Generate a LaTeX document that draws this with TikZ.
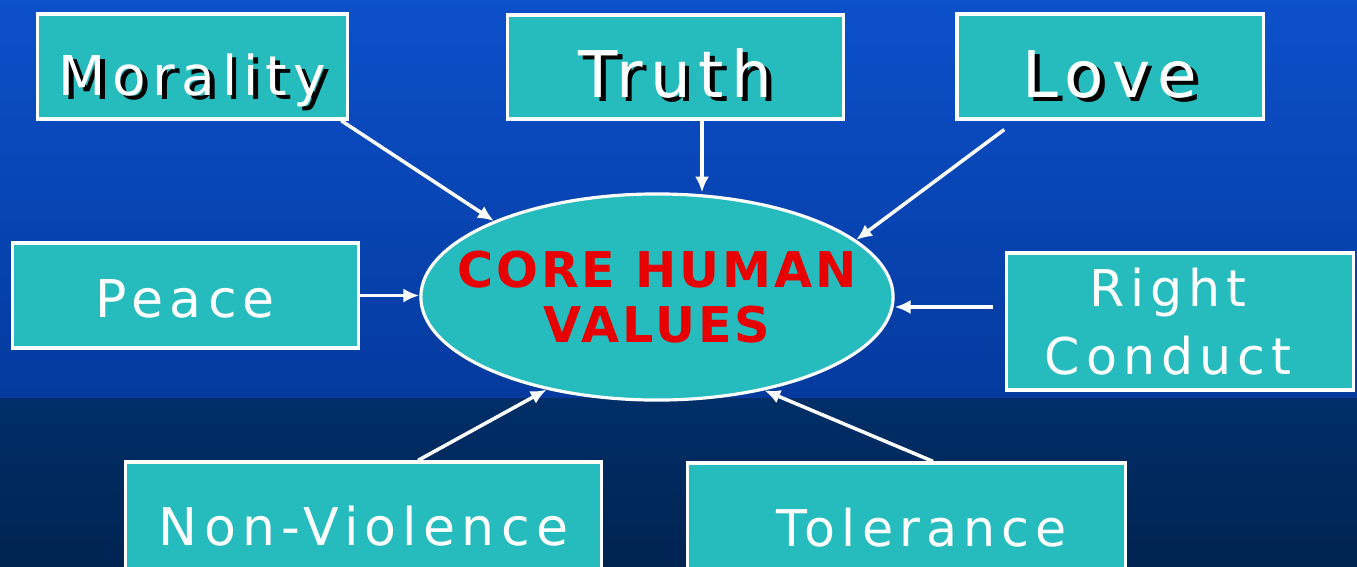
\documentclass[tikz,border=0pt]{standalone}
\usepackage{fontspec}
\setmainfont{DejaVu Sans}
\newfontfamily\boxfont{DejaVu Sans}[LetterSpace=12]
\newfontfamily\corefont{DejaVu Sans}[LetterSpace=6]
\usetikzlibrary{shapes.geometric,arrows.meta,calc}

\definecolor{bgtop}{RGB}{12,80,202}
\definecolor{bgmid}{RGB}{4,58,158}
\definecolor{bglow}{RGB}{0,46,104}
\definecolor{bgbot}{RGB}{0,36,82}
\definecolor{boxfill}{RGB}{38,188,190}
\definecolor{corered}{RGB}{232,0,0}

\newcommand{\shadowed}[1]{\makebox[0pt][l]{\kern1.3pt\raisebox{-1.3pt}{\color{black}#1}}#1}

\begin{document}
\begin{tikzpicture}[
    x=0.01cm, y=-0.01cm,
    valbox/.style={draw=white, line width=0.9pt, fill=boxfill, text=white,
        inner sep=0pt, text depth=0pt},
    core/.style={ellipse, draw=white, line width=0.9pt, fill=boxfill,
        minimum width=4.72cm, minimum height=2.06cm,
        inner xsep=-1cm, inner ysep=0pt, align=center, text=corered,
        font=\corefont\bfseries\fontsize{14pt}{15.6pt}\selectfont},
    arr/.style={draw=white, line width=1pt, -{Latex[length=4.5pt,width=4pt]}}
]

    % background
    \useasboundingbox (0,0) rectangle (1357,566);
    \clip (0,0) rectangle (1357,566);
    \shade[top color=bgtop, bottom color=bgmid] (0,0) rectangle (1357,398);
    \shade[top color=bglow, bottom color=bgbot] (0,398) rectangle (1357,566);

    % centre
    \node[core] (core) at (657,297) {CORE HUMAN\\VALUES};

    % top row
    \node[valbox, minimum width=3.09cm, minimum height=1.05cm, text height=0.57cm,
        font=\boxfont\fontsize{15.6pt}{18pt}\selectfont]
        (morality) at (192.5,66.5) {\shadowed{Morality}};
    \node[valbox, minimum width=3.35cm, minimum height=1.04cm, text height=0.6cm,
        font=\boxfont\fontsize{18.3pt}{21pt}\selectfont]
        (truth) at (675.5,67) {\shadowed{Truth}};
    \node[valbox, minimum width=3.06cm, minimum height=1.05cm, text height=0.61cm,
        font=\boxfont\fontsize{18.3pt}{21pt}\selectfont]
        (love) at (1110,66.5) {\shadowed{Love}};

    % middle row
    \node[valbox, minimum width=3.45cm, minimum height=1.05cm, text height=0.43cm,
        font=\boxfont\fontsize{14.8pt}{18pt}\selectfont]
        (peace) at (185.5,295.5) {Peace};
    \node[valbox, minimum width=3.46cm, minimum height=1.37cm, align=center,
        inner sep=0pt, text depth=, font=\boxfont\fontsize{14.4pt}{19.4pt}\selectfont]
        (conduct) at (1180,321.5) {Right\kern0.24cm\\Conduct\kern0.24cm};

    % bottom row
    \node[valbox, minimum width=4.75cm, minimum height=1.2cm, text height=0.46cm,
        font=\boxfont\fontsize{14.8pt}{18pt}\selectfont]
        (nonviol) at (363.5,522) {Non-Violence};
    \node[valbox, minimum width=4.37cm, minimum height=1.2cm, text height=0.46cm,
        font=\boxfont\fontsize{14.4pt}{18pt}\selectfont]
        (toler) at (906.5,523) {\kern0.3cm Tolerance};

    % arrows into the centre
    \draw[arr] (morality.-20) -- (core.155);
    \draw[arr] ([xshift=0.265cm]truth.south) -- ([xshift=0.265cm]truth.south |- core.north);
    \draw[arr, shorten <=0.15cm] (love.210) -- (core.16);
    \draw[arr] (peace.east) -- (peace.east -| core.west);
    \draw[arr, shorten <=0.12cm]
        ([yshift=0.145cm]conduct.west) --
        ([yshift=0.145cm]conduct.west -| core.east);
    \draw[arr] ([xshift=0.545cm]nonviol.north) -- (core.220);
    \draw[arr] ([xshift=0.265cm]toler.north) -- (core.319);

\end{tikzpicture}
\end{document}
